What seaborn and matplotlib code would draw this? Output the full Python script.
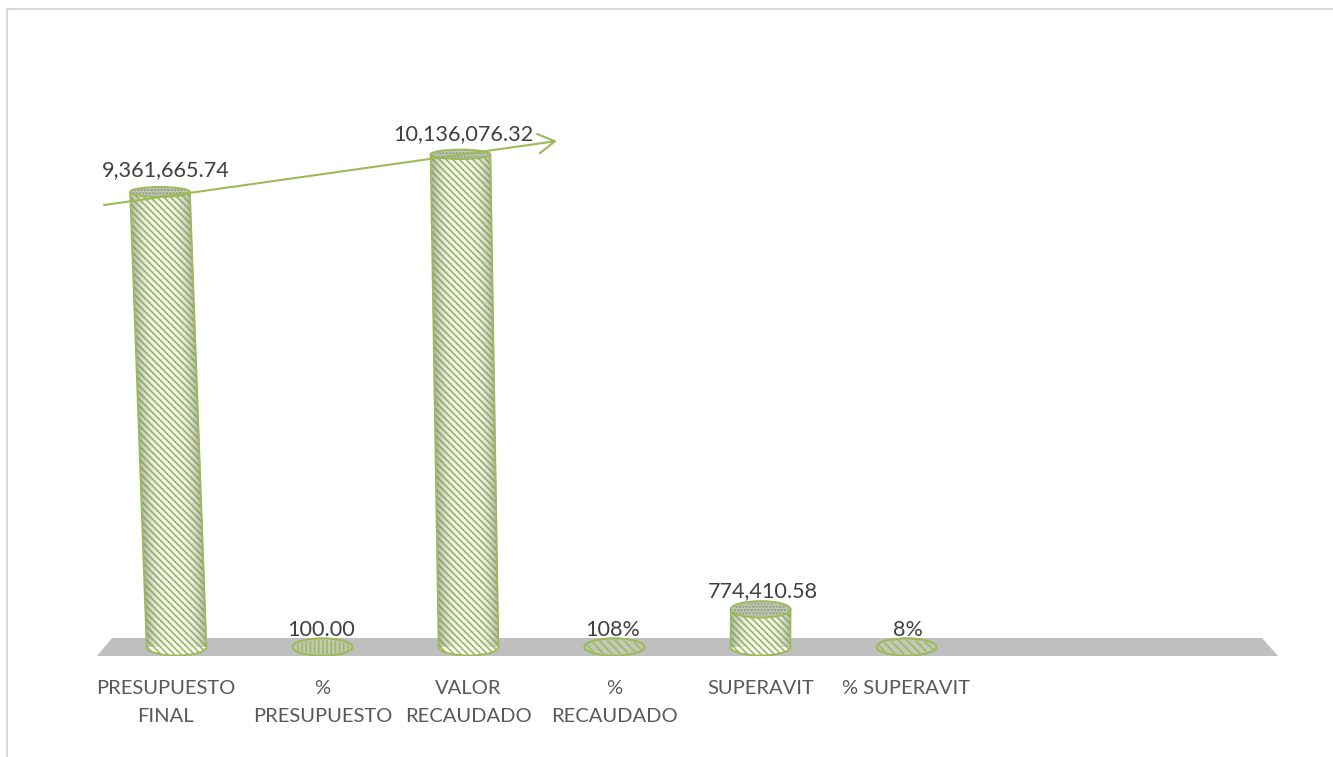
import numpy as np
import matplotlib
matplotlib.use("Agg")
import matplotlib.pyplot as plt
import seaborn as sns
import pandas as pd
from matplotlib.patches import Ellipse, Polygon, FancyArrowPatch
from matplotlib.lines import Line2D
from matplotlib.transforms import Affine2D, ScaledTranslation

categories = ["PRESUPUESTO\nFINAL", "%\nPRESUPUESTO", "VALOR\nRECAUDADO", "%\nRECAUDADO", "SUPERAVIT", "% SUPERAVIT"]
values = [9361665.74, 100.00, 10136076.32, 1.08, 774410.58, 0.08]
value_labels = ["9,361,665.74", "100.00", "10,136,076.32", "108%", "774,410.58", "8%"]

GREEN = "#9bbb59"
W, H, DPI = 1333, 757, 100
sns.set_theme(style="white")
plt.rcParams["font.family"] = ["Lato", "DejaVu Sans"]
plt.rcParams["hatch.linewidth"] = 1.2

fig = plt.figure(figsize=(W / DPI, H / DPI), dpi=DPI)
# axes box in pixels: x 103.5..1271.5, y 60..656
ax = fig.add_axes([103.5 / W, (H - 656) / H, 1168 / W, 596 / H])
PX_PER_UNIT = 455 / 9361665.74
ax.set_facecolor("none")

df = pd.DataFrame({"cat": categories, "val": values})
sns.barplot(data=df, x="cat", y="val", width=0.41, ax=ax, color="white", saturation=1, zorder=3)
ax.set_xlim(-0.5, 7.5)
ax.set_ylim(-9 / PX_PER_UNIT, 587 / PX_PER_UNIT)
sns.despine(ax=ax, left=True, bottom=True)
ax.set_xlabel("")
ax.set_ylabel("")
ax.set_yticks([])
ax.tick_params(axis="x", length=0, pad=17.5, labelsize=14.5, labelcolor="#595959")
ax.set_xticks(range(len(categories)))
ax.set_xticklabels(categories, linespacing=1.76, va="top")
tick_labels = ax.get_xticklabels()
tick_labels[0].set_transform(tick_labels[0].get_transform() + ScaledTranslation(-11 / DPI, 0, fig.dpi_scale_trans))

# floor
ax.add_patch(Polygon([[-0.0056, 0], [1.0056, 0], [0.9919, 18 / 596], [0.0073, 18 / 596]],
                     closed=True, transform=ax.transAxes, fc="#bfbfbf", ec="none", zorder=1, clip_on=False))

# cylinder shading
t = np.linspace(-1, 1, 64)
shade = np.clip(np.abs(t) ** 3, 0, 1)
rgba = np.zeros((1, 64, 4))
rgba[..., 0] = 0.50
rgba[..., 1] = 0.54
rgba[..., 2] = 0.40
rgba[..., 3] = 0.06 + 0.55 * shade


def lean(x):
    return (x - 3.63) * 0.0311 / 9361665.74


def ell_h(v):
    return (17 - 7 * v / 9361665.74) / PX_PER_UNIT


offs = [(-11, 22), (-1, 17), (-5, 20), (-2, 17), (2, 18), (1, 17)]
for i, (bar, v) in enumerate(zip(ax.patches, values)):
    xc = bar.get_x() + bar.get_width() / 2
    w = bar.get_width()
    s = lean(i)
    skew = Affine2D(np.array([[1, s, 0], [0, 1, 0], [0, 0, 1]], float))
    tr = skew + ax.transData
    big = v > 1000
    bar.set_transform(tr)
    bar.set_facecolor("white")
    bar.set_edgecolor(GREEN)
    bar.set_linewidth(0)
    bar.set_hatch("\\\\\\\\\\")
    # bottom cap
    ax.add_patch(Ellipse((xc, 0), w, ell_h(0), fc="white" if big else "#c2c5b6",
                         ec=GREEN, lw=1.4, hatch="\\\\\\\\\\" if big else None, zorder=2.5))
    if big:
        im = ax.imshow(rgba, extent=(xc - w / 2, xc + w / 2, 0, v), aspect="auto", zorder=3.2,
                       transform=tr, interpolation="bilinear")
        im.set_clip_path(bar)
        for ex in (xc - w / 2, xc + w / 2):
            ax.add_line(Line2D([ex, ex], [0, v], color=GREEN, lw=1.2, transform=tr, zorder=3.4))
    # top cap
    cap_edge = "#8f9a78" if big else GREEN
    cap = Ellipse((xc + s * v, v), w, ell_h(v), fc="#c4c7ba", ec=GREEN, lw=1.4, zorder=3.6)
    ax.add_patch(cap)
    ax.add_patch(Ellipse((xc + s * v, v), w * 0.94, ell_h(v) * 0.8, fc="none", ec=cap_edge, lw=0,
                         hatch="....." if big else ("||||" if i == 1 else "\\\\\\\\"), zorder=3.7))
    ax.annotate(value_labels[i], (xc, v), xytext=offs[i], textcoords="offset pixels",
                ha="center", va="center", fontsize=15.6, color="#404040", zorder=5,
                annotation_clip=False)
ax.set_xlim(-0.5, 7.5)
ax.set_ylim(-9 / PX_PER_UNIT, 587 / PX_PER_UNIT)

# decorative trend arrow and chart frame (figure fractions)
fig.add_artist(FancyArrowPatch(
    (104 / W, 1 - 205 / H), (557 / W, 1 - 141 / H), transform=fig.transFigure,
    arrowstyle="->,head_length=12,head_width=7", color=GREEN, lw=1.5, zorder=6, shrinkA=0, shrinkB=0))
fig.add_artist(Line2D([7 / W, 7 / W], [0, 1 - 9 / H], color="#d9d9d9", lw=1.5))
fig.add_artist(Line2D([7 / W, 1], [1 - 9 / H, 1 - 9 / H], color="#d9d9d9", lw=1.5))

fig.savefig("out.png", dpi=DPI)
